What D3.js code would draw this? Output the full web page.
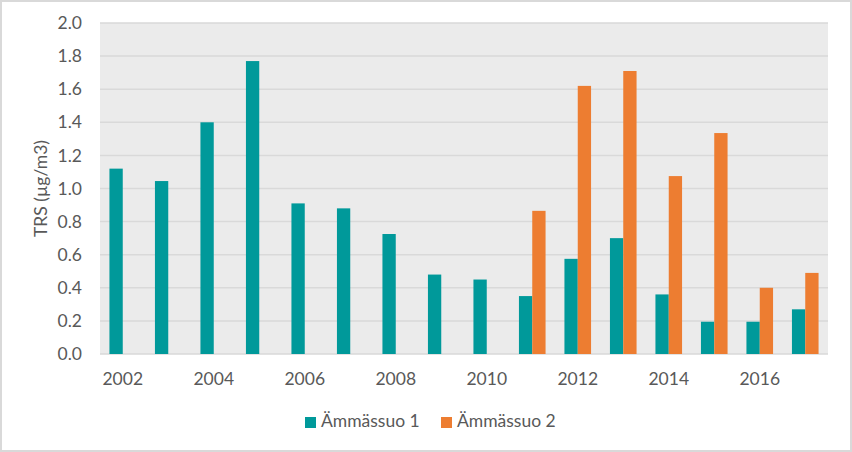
<!DOCTYPE html>
<html>
<head>
<meta charset="utf-8">
<script src="https://cdn.jsdelivr.net/npm/d3@7"></script>
<style>
  body { margin: 0; background: #fff; }
  text { font-family: Lato, "Open Sans", sans-serif; fill: #595959; }
</style>
</head>
<body>
<div id="chart"></div>
<script>
const years = ["2002", "2003", "2004", "2005", "2006", "2007", "2008", "2009",
               "2010", "2011", "2012", "2013", "2014", "2015", "2016", "2017"];
const series1 = [1.12, 1.045, 1.40, 1.77, 0.91, 0.88, 0.725, 0.48,
                 0.45, 0.35, 0.575, 0.70, 0.36, 0.195, 0.195, 0.27];
const series2 = [null, null, null, null, null, null, null, null,
                 null, 0.865, 1.62, 1.71, 1.075, 1.335, 0.40, 0.49];
const seriesNames = ["Ämmässuo 1", "Ämmässuo 2"];
const colors = ["#00999A", "#ED7D31"];
const yTicks = [0, 0.2, 0.4, 0.6, 0.8, 1.0, 1.2, 1.4, 1.6, 1.8, 2.0];
const xTickLabels = ["2002", "2004", "2006", "2008", "2010", "2012", "2014", "2016"];

const width = 852;
const height = 452;
const margin = { top: 23, right: 24, bottom: 98, left: 100 };
const fontSize = 17.5;

const svg = d3.select("#chart")
    .append("svg")
    .attr("width", width)
    .attr("height", height);

// outer border
svg.append("rect")
    .attr("x", 1).attr("y", 1)
    .attr("width", width - 2).attr("height", height - 2)
    .attr("fill", "#fff")
    .attr("stroke", "#D9D9D9")
    .attr("stroke-width", 2);

const x = d3.scaleBand()
    .domain(years)
    .range([margin.left, width - margin.right])
    .paddingInner(0.415)
    .paddingOuter(0.2075);

const xSub = d3.scaleBand()
    .domain([0, 1])
    .range([0, x.bandwidth()]);

const y = d3.scaleLinear()
    .domain([0, 2])
    .range([height - margin.bottom, margin.top]);

// plot background
svg.append("rect")
    .attr("x", margin.left)
    .attr("y", margin.top)
    .attr("width", width - margin.left - margin.right)
    .attr("height", y(0) - margin.top)
    .attr("fill", "#EBEBEB");

// gridlines
svg.append("g")
    .selectAll("line")
    .data(yTicks)
    .enter().append("line")
    .attr("x1", margin.left)
    .attr("x2", width - margin.right)
    .attr("y1", d => y(d))
    .attr("y2", d => y(d))
    .attr("stroke", "#D9D9D9")
    .attr("stroke-width", 1.5);

// y tick labels
svg.append("g")
    .selectAll("text")
    .data(yTicks)
    .enter().append("text")
    .attr("x", 82)
    .attr("y", d => y(d))
    .attr("dy", "0.35em")
    .attr("text-anchor", "end")
    .attr("font-size", fontSize)
    .text(d => d.toFixed(1));

// y axis title
svg.append("text")
    .attr("transform", `translate(47,${(margin.top + y(0)) / 2}) rotate(-90)`)
    .attr("text-anchor", "middle")
    .attr("font-size", fontSize)
    .text("TRS (µg/m3)");

// bars
const data = years.map((yr, i) => ({ year: yr, values: [series1[i], series2[i]] }));

const groups = svg.append("g")
    .selectAll("g")
    .data(data)
    .enter().append("g")
    .attr("transform", d => `translate(${x(d.year)},0)`);

groups.selectAll("rect")
    .data(d => d.values.map((v, k) => ({ k, v })).filter(e => e.v !== null))
    .enter().append("rect")
    .attr("x", d => xSub(d.k))
    .attr("y", d => y(d.v))
    .attr("width", xSub.bandwidth())
    .attr("height", d => y(0) - y(d.v))
    .attr("fill", d => colors[d.k]);

// x tick labels
svg.append("g")
    .selectAll("text")
    .data(xTickLabels)
    .enter().append("text")
    .attr("x", d => x(d) + x.bandwidth() / 2)
    .attr("y", 385)
    .attr("text-anchor", "middle")
    .attr("font-size", fontSize)
    .text(d => d);

// legend
const legendX = [305, 441];
const legend = svg.append("g")
    .selectAll("g")
    .data(seriesNames)
    .enter().append("g")
    .attr("transform", (d, i) => `translate(${legendX[i]},417)`);

legend.append("rect")
    .attr("width", 11)
    .attr("height", 11)
    .attr("fill", (d, i) => colors[i]);

legend.append("text")
    .attr("x", 16)
    .attr("y", 10)
    .attr("font-size", fontSize)
    .text(d => d);
</script>
</body>
</html>
